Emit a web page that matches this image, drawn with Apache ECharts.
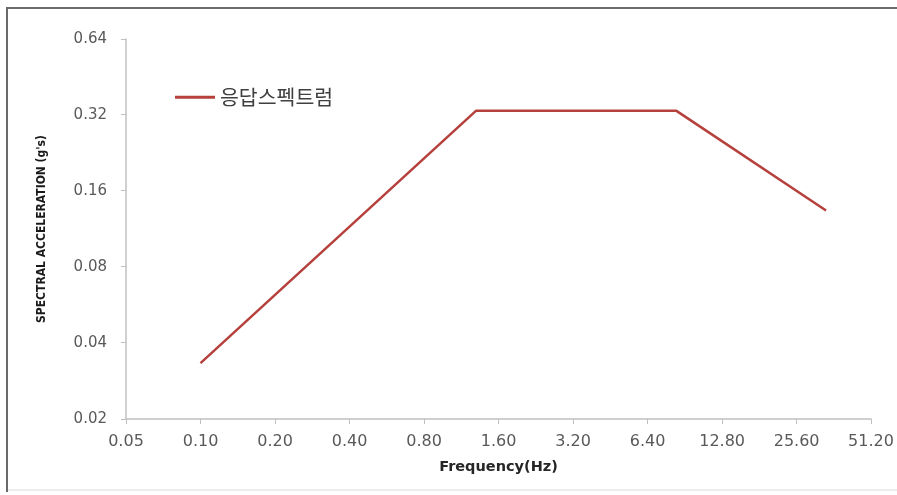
<!DOCTYPE html>
<html><head><meta charset="utf-8">
<script src="https://cdn.jsdelivr.net/npm/echarts@6/dist/echarts.min.js"></script>
<style>html,body{margin:0;padding:0;background:#fff}#c{width:897px;height:495px}</style>
</head><body><div id="c"></div>
<script>
const seriesName = '응답스펙트럼';
const frequency = [0.10, 1.30, 8.35, 33.7];
const acceleration = [0.0333, 0.333, 0.333, 0.134];
const xTicks = [0.05, 0.10, 0.20, 0.40, 0.80, 1.60, 3.20, 6.40, 12.80, 25.60, 51.20];
const yTicks = [0.02, 0.04, 0.08, 0.16, 0.32, 0.64];

function nearestLabel(list, v) {
  let best = list[0];
  for (const t of list) if (Math.abs(Math.log(t / v)) < Math.abs(Math.log(best / v))) best = t;
  return best.toFixed(2);
}

const chart = echarts.init(document.getElementById('c'));
chart.setOption({
  animation: false,
  backgroundColor: '#fff',
  grid: { left: 126, right: 26, top: 39, bottom: 76 },
  legend: {
    left: 170, top: 82,
    icon: 'rect', itemWidth: 40, itemHeight: 3, itemGap: 3,
    textStyle: { fontFamily: 'Noto Sans CJK KR', fontSize: 20.5, color: '#404040' },
    data: [seriesName]
  },
  xAxis: {
    type: 'log', logBase: 2, min: xTicks[0], max: xTicks[xTicks.length - 1],
    interval: 1,
    name: 'Frequency(Hz)', nameLocation: 'middle', nameGap: 41,
    nameTextStyle: { fontFamily: 'DejaVu Sans', fontWeight: 'bold', fontSize: 14.5, color: '#262626' },
    axisLine: { lineStyle: { color: '#c0c0c0', width: 1.5 } },
    axisTick: { show: true, length: 5, lineStyle: { color: '#c0c0c0' } },
    splitLine: { show: false },
    minorTick: { show: false },
    axisLabel: { margin: 15, fontFamily: 'DejaVu Sans', fontSize: 16, color: '#595959',
      formatter: v => nearestLabel(xTicks, v) }
  },
  yAxis: {
    type: 'log', logBase: 2, min: yTicks[0], max: yTicks[yTicks.length - 1],
    interval: 1,
    name: "SPECTRAL ACCELERATION (g's)", nameLocation: 'middle', nameGap: 78, nameRotate: 90,
    nameTextStyle: { fontFamily: 'DejaVu Sans Condensed', fontWeight: 'bold', fontSize: 12, color: '#1a1a1a' },
    axisLine: { show: true, lineStyle: { color: '#c0c0c0', width: 1.5 } },
    axisTick: { show: true, length: 5, lineStyle: { color: '#c0c0c0' } },
    splitLine: { show: false },
    axisLabel: { margin: 19, fontFamily: 'DejaVu Sans', fontSize: 15, color: '#595959',
      formatter: v => nearestLabel(yTicks, v) }
  },
  graphic: [
    { type: 'line', shape: { x1: 7, y1: 8, x2: 7, y2: 492 }, style: { stroke: '#6a6a6a', lineWidth: 2 } },
    { type: 'line', shape: { x1: 6, y1: 8, x2: 897, y2: 8 }, style: { stroke: '#6a6a6a', lineWidth: 2 } },
    { type: 'line', shape: { x1: 8, y1: 490, x2: 897, y2: 490 }, style: { stroke: '#ececec', lineWidth: 2 } }
  ],
  series: [{
    name: seriesName, type: 'line',
    data: frequency.map((f, i) => [f, acceleration[i]]),
    showSymbol: false, symbol: 'none',
    lineStyle: { color: '#b5403c', width: 2.5 },
    itemStyle: { color: '#b5403c' }
  }]
});
</script></body></html>
